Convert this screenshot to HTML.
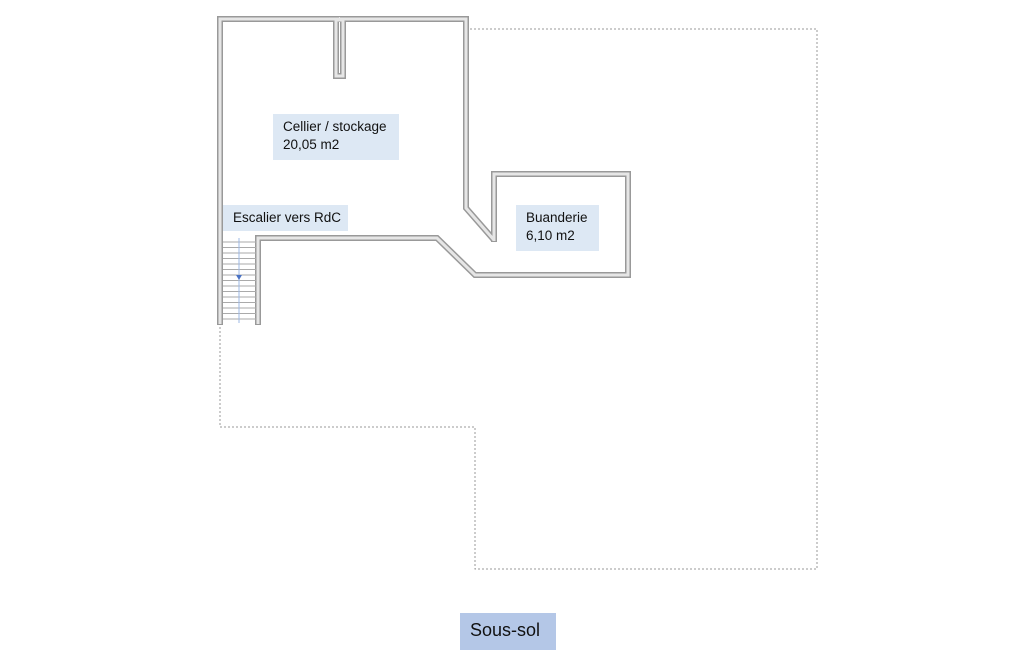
<!DOCTYPE html>
<html><head><meta charset="utf-8"><style>
body{margin:0;background:#fff;width:1025px;height:650px;overflow:hidden;position:relative;font-family:"Liberation Sans",sans-serif}
.l{position:absolute;background:#dde8f4;color:#111;font-size:13.5px;line-height:18px;padding:4px 10px;box-sizing:border-box;white-space:nowrap}
</style></head><body>
<svg width="1025" height="650" style="position:absolute;left:0;top:0">
<g fill="none" stroke-linejoin="miter">
<path d="M466,29 H817 V569 H475 V427 H220 V325" stroke="#999" stroke-width="1" stroke-dasharray="2,2"/>
<g stroke="#999" stroke-width="6">
<path d="M220,325 V19 H466 V208 L494,240"/>
<path d="M494,242 V174 H628 V275 H475 L437,238 H258 V325"/>
<rect x="336" y="19" width="7" height="57"/>
</g>
<g stroke="#e6e6e6" stroke-width="3">
<path d="M220,324 V19 H466 V208 L494,240"/>
<path d="M494,241 V174 H628 V275 H475 L437,238 H258 V324"/>
<rect x="336" y="20" width="7" height="56"/>
</g>
<rect x="339" y="17" width="1" height="4" fill="#e6e6e6"/>
<g stroke="#aaa" stroke-width="1">
<path d="M223,242H256M223,247.5H256M223,253H256M223,258.5H256M223,264H256M223,269.5H256M223,275H256M223,280.5H256M223,286H256M223,291.5H256M223,297H256M223,302.5H256M223,308H256M223,313.5H256M223,319H256"/>
</g>
<path d="M239,238 V323" stroke="#9db8e4" stroke-width="1"/>
</g>
<path d="M236,275 L242,275 L239,280 Z" fill="#4a72c4"/>
</svg>
<div class="l" style="left:273px;top:114px;width:126px;height:46px">Cellier / stockage<br>20,05 m2</div>
<div class="l" style="left:223px;top:205px;width:125px;height:26px;padding-left:10px">Escalier vers RdC</div>
<div class="l" style="left:516px;top:205px;width:83px;height:46px">Buanderie<br>6,10 m2</div>
<div class="l" style="left:460px;top:613px;width:96px;height:37px;background:#b4c7e7;font-size:18px;line-height:28px;padding:3px 10px">Sous-sol</div>
</body></html>
